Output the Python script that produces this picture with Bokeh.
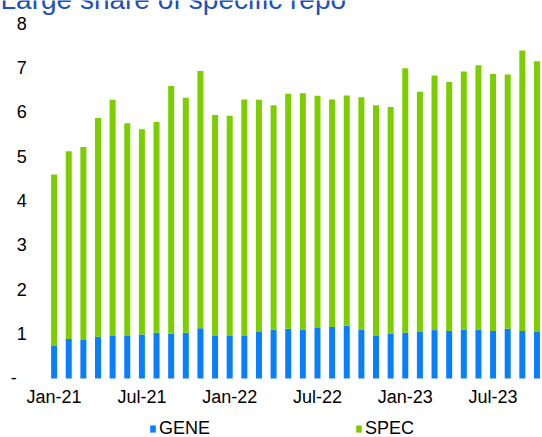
from bokeh.plotting import figure
from bokeh.models import Range1d, FixedTicker, Legend, LegendItem, Label, ColumnDataSource
from bokeh.embed import file_html
from bokeh.resources import INLINE

months = ["Jan-21", "Feb-21", "Mar-21", "Apr-21", "May-21", "Jun-21", "Jul-21", "Aug-21",
          "Sep-21", "Oct-21", "Nov-21", "Dec-21", "Jan-22", "Feb-22", "Mar-22", "Apr-22",
          "May-22", "Jun-22", "Jul-22", "Aug-22", "Sep-22", "Oct-22", "Nov-22", "Dec-22",
          "Jan-23", "Feb-23", "Mar-23", "Apr-23", "May-23", "Jun-23", "Jul-23", "Aug-23",
          "Sep-23", "Oct-23"]
gene = [0.73, 0.89, 0.87, 0.94, 0.96, 0.96, 0.99, 1.03, 1.01, 1.03, 1.13, 0.96, 0.96, 0.96,
        1.05, 1.10, 1.12, 1.10, 1.14, 1.16, 1.19, 1.10, 0.96, 1.01, 1.03, 1.05, 1.09, 1.07,
        1.10, 1.10, 1.07, 1.12, 1.07, 1.05]
spec = [3.87, 4.23, 4.35, 4.93, 5.32, 4.79, 4.63, 4.75, 5.58, 5.30, 5.80, 4.98, 4.96, 5.33,
        5.23, 5.06, 5.30, 5.33, 5.23, 5.13, 5.19, 5.24, 5.20, 5.11, 5.96, 5.41, 5.74, 5.61,
        5.82, 5.96, 5.79, 5.73, 6.32, 6.10]
x_tick_labels = ["Jan-21", "Jul-21", "Jan-22", "Jul-22", "Jan-23", "Jul-23"]
y_ticks = [0, 1, 2, 3, 4, 5, 6, 7, 8]
title_text = "Large share of specific repo"

FONT = "Liberation Sans"
BLUE = "#0A7FFA"
GREEN = "#7DCE00"

src = ColumnDataSource(dict(x=list(range(len(months))), month=months, GENE=gene, SPEC=spec))

# the frame covers the whole canvas; both axes are pinned at data positions
p = figure(output_backend="svg", toolbar_location=None,
           frame_width=541, frame_height=437,
           min_border_left=0, min_border_right=1, min_border_top=0, min_border_bottom=0,
           x_range=Range1d(-3.664, 33.31), y_range=Range1d(-1.33, 8.519))
p.outline_line_color = None
p.xgrid.grid_line_color = None
p.ygrid.grid_line_color = None
p.background_fill_color = "white"
p.border_fill_color = "white"

rs = p.vbar_stack(["GENE", "SPEC"], x="x", width=0.41, color=[BLUE, GREEN],
                  line_color=None, source=src)

tick_pos = [months.index(m) for m in x_tick_labels]
p.xaxis.fixed_location = 0
p.xaxis.ticker = FixedTicker(ticks=tick_pos)
p.xaxis.major_label_overrides = {i: m for i, m in zip(tick_pos, x_tick_labels)}
p.yaxis.fixed_location = -0.5
p.yaxis.ticker = FixedTicker(ticks=y_ticks)
p.yaxis.major_label_overrides = {0: "-\u00a0\u00a0"}

for ax in (p.xaxis, p.yaxis):
    ax.axis_line_color = None
    ax.major_tick_line_color = None
    ax.minor_tick_line_color = None
    ax.major_tick_out = 0
    ax.major_tick_in = 0
    ax.major_label_text_font = FONT
    ax.major_label_text_font_size = "18px"
    ax.major_label_text_color = "#000000"
p.xaxis.major_label_standoff = 9
p.yaxis.major_label_standoff = 20

legend = Legend(items=[LegendItem(label="GENE", renderers=[rs[0]]),
                       LegendItem(label="SPEC", renderers=[rs[1]])],
                orientation="horizontal", location=(149, -2),
                glyph_width=7, glyph_height=9, label_standoff=3, label_width=60,
                label_height=18, spacing=136,
                padding=0, margin=0, border_line_color=None, background_fill_alpha=0,
                label_text_font=FONT, label_text_font_size="18px", label_text_color="#000000")
p.add_layout(legend, "center")

title = Label(x=-3.664, y=8.54, text=title_text, text_font=FONT, text_font_size="28px",
              text_color="#2050B8", text_baseline="alphabetic", text_align="left")
p.add_layout(title)

open("out.html", "w").write(file_html(p, INLINE))
